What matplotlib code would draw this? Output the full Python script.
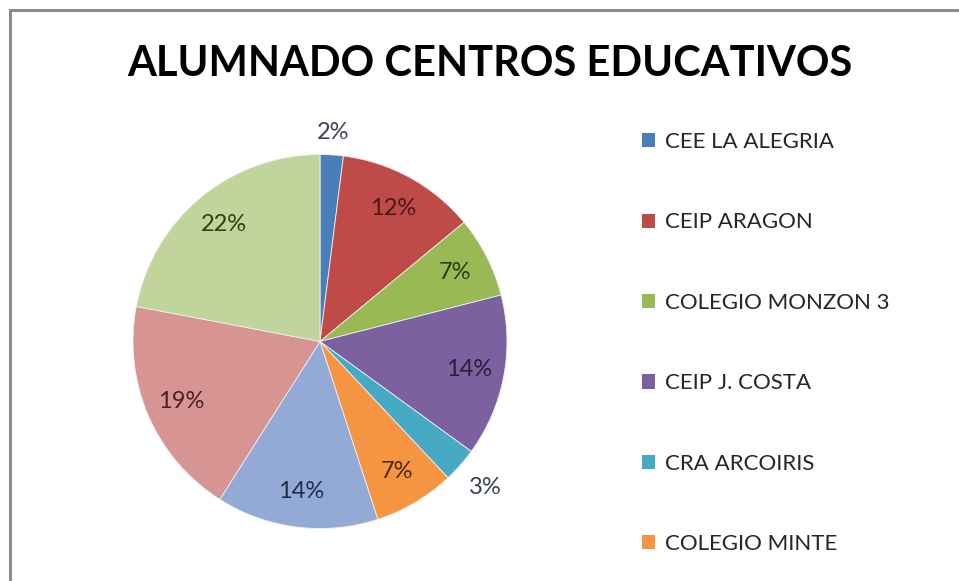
import numpy as np
import matplotlib
matplotlib.use("Agg")
import matplotlib.pyplot as plt
from matplotlib.patches import Patch
from matplotlib.lines import Line2D

plt.rcParams['font.family'] = ['Lato', 'DejaVu Sans']

# data
centros = ["CEE LA ALEGRIA", "CEIP ARAGON", "COLEGIO MONZON 3", "CEIP J. COSTA",
           "CRA ARCOIRIS", "COLEGIO MINTE", "", "", ""]
porcentajes = [2, 12, 7, 14, 3, 7, 14, 19, 22]
colores = ["#4a7ebb", "#be4b48", "#98b954", "#7d60a0", "#46aac5", "#f59542",
           "#94aad6", "#d69492", "#c0d59c"]
colores_txt = ["#3a4255", "#4a1a19", "#2f3d15", "#2a1e3a", "#3a4250", "#4e2a0c",
               "#1f2d4d", "#4a2221", "#2f4017"]

fig = plt.figure(figsize=(9.59, 5.81), dpi=100)

# marco gris (solo arriba e izquierda visibles)
fig.add_artist(Line2D([10/959, 10/959], [0, 1 - 10/581], color="#8c8c8c", lw=2.2,
                      transform=fig.transFigure))
fig.add_artist(Line2D([10/959, 1], [1 - 10/581, 1 - 10/581], color="#8c8c8c", lw=2.2,
                      transform=fig.transFigure))

fig.text(490/959, 1 - 64/581, "ALUMNADO CENTROS EDUCATIVOS", ha="center", va="center",
         fontsize=30, fontweight="bold", color="#000000")

ax = fig.add_axes([133/959, 1 - 528.5/581, 374/959, 374/581])
wedges, textos, autotextos = ax.pie(
    porcentajes, colors=colores, startangle=90, counterclock=False,
    autopct=lambda p: "%d%%" % round(p), pctdistance=0.81,
    wedgeprops=dict(linewidth=0.6, edgecolor="#f0f0f0"),
    textprops=dict(fontsize=17))
ax.set_xlim(-1, 1)
ax.set_ylim(-1, 1)
ax.set_aspect("equal")
ax.axis("off")

for i, t in enumerate(autotextos):
    t.set_color(colores_txt[i])
    if porcentajes[i] <= 3:
        w = wedges[i]
        ang = np.deg2rad((w.theta1 + w.theta2) / 2)
        r = 1.12 if i == 0 else 1.18
        t.set_position((r * np.cos(ang), r * np.sin(ang)))

handles = [Patch(facecolor=colores[i], edgecolor="none") for i in range(6)]
fig.legend(handles, centros[:6], loc="upper left", bbox_to_anchor=(622/959, 1 - 112/581),
           frameon=False, fontsize=16, handlelength=0.6, handleheight=0.6,
           handletextpad=0.45, labelspacing=2.72, labelcolor="#262626")

fig.savefig("out.png", dpi=100, facecolor="white")
